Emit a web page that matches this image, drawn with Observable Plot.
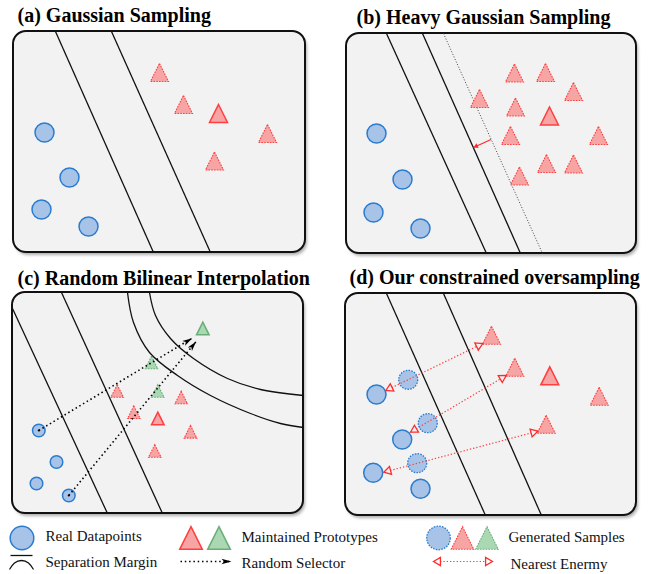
<!DOCTYPE html>
<html><head><meta charset="utf-8">
<script src="https://cdn.jsdelivr.net/npm/d3@7"></script>
<script src="https://cdn.jsdelivr.net/npm/@observablehq/plot@0.6"></script>
<style>body{margin:0;background:#fff}</style>
</head><body><div id="chart"></div>
<script>
// ---- diagram data (diagram units) ----
const panelBoxes = [
  {panel:"a", x1:13, y1:31, x2:305, y2:252},
  {panel:"b", x1:346, y1:33, x2:636, y2:253},
  {panel:"c", x1:12, y1:292, x2:303, y2:513},
  {panel:"d", x1:345, y1:293, x2:636, y2:515}
];
const panelTitles = [
  {label:"(a) Gaussian Sampling", x:17, y:21},
  {label:"(b) Heavy Gaussian Sampling", x:356, y:23},
  {label:"(c) Random Bilinear Interpolation", x:17, y:284},
  {label:"(d) Our constrained oversampling", x:349, y:283}
];
const marginLines = [
  {x1:55, y1:31, x2:153, y2:252}, {x1:111, y1:31, x2:210, y2:252},
  {x1:386, y1:33, x2:486, y2:253}, {x1:422, y1:33, x2:520, y2:253},
  {x1:12, y1:308, x2:107, y2:513}, {x1:61, y1:292, x2:162, y2:513},
  {x1:386, y1:293, x2:485, y2:515}, {x1:443, y1:293, x2:541, y2:515}
];
const shiftedBoundary = [{x1:443, y1:33, x2:542, y2:253}];
const shiftArrow = [{x1:490.5, y1:139, x2:473, y2:147}];
const curvedMargins = [
  {curve:"outer", x:127, y:292}, {curve:"outer", x:133, y:322}, {curve:"outer", x:149, y:352},
  {curve:"outer", x:177, y:375}, {curve:"outer", x:210, y:395}, {curve:"outer", x:250, y:413},
  {curve:"outer", x:280, y:423}, {curve:"outer", x:303, y:427},
  {curve:"inner", x:149, y:292}, {curve:"inner", x:155, y:315}, {curve:"inner", x:170, y:338},
  {curve:"inner", x:193, y:358}, {curve:"inner", x:227, y:378}, {curve:"inner", x:260, y:389},
  {curve:"inner", x:303, y:395}
];
const realPoints = [
  {panel:"a", x:44, y:132}, {panel:"a", x:69, y:177}, {panel:"a", x:41, y:209}, {panel:"a", x:88, y:226},
  {panel:"b", x:376, y:133}, {panel:"b", x:402, y:179}, {panel:"b", x:373, y:212}, {panel:"b", x:420, y:228},
  {panel:"c", x:38.3, y:430}, {panel:"c", x:56, y:461.5}, {panel:"c", x:36, y:483}, {panel:"c", x:68.3, y:495},
  {panel:"d", x:376, y:394}, {panel:"d", x:401.7, y:439}, {panel:"d", x:372.7, y:472.3}, {panel:"d", x:420, y:488.3},
  {panel:"legend", x:21.5, y:537.5}
];
const generatedPoints = [
  {panel:"d", x:407.7, y:379.3}, {panel:"d", x:427.3, y:422.7}, {panel:"d", x:416.7, y:462.7},
  {panel:"legend", x:438, y:537.5}
];
const selectedPoints = [{x:38.3, y:430}, {x:68.3, y:495}];
const triangles = [
  // panel a
  {panel:"a", x:159, y:72, color:"red", kind:"generated"},
  {panel:"a", x:183, y:104, color:"red", kind:"generated"},
  {panel:"a", x:218, y:113, color:"red", kind:"maintained"},
  {panel:"a", x:267, y:133, color:"red", kind:"generated"},
  {panel:"a", x:214, y:160.5, color:"red", kind:"generated"},
  // panel b
  {panel:"b", x:514, y:72.5, color:"red", kind:"generated"},
  {panel:"b", x:545, y:72, color:"red", kind:"generated"},
  {panel:"b", x:573, y:91, color:"red", kind:"generated"},
  {panel:"b", x:479, y:98, color:"red", kind:"generated"},
  {panel:"b", x:515, y:106.5, color:"red", kind:"generated"},
  {panel:"b", x:549, y:115.5, color:"red", kind:"maintained"},
  {panel:"b", x:510, y:135, color:"red", kind:"generated"},
  {panel:"b", x:598, y:135, color:"red", kind:"generated"},
  {panel:"b", x:546, y:163, color:"red", kind:"generated"},
  {panel:"b", x:573, y:163.5, color:"red", kind:"generated"},
  {panel:"b", x:519, y:175.5, color:"red", kind:"generated"},
  // panel c
  {panel:"c", x:202.3, y:328, color:"green", kind:"maintained"},
  {panel:"c", x:151, y:362, color:"green", kind:"generated"},
  {panel:"c", x:157.3, y:390.5, color:"green", kind:"generated"},
  {panel:"c", x:116.7, y:390.5, color:"red", kind:"generated"},
  {panel:"c", x:180.7, y:397, color:"red", kind:"generated"},
  {panel:"c", x:133.3, y:411.7, color:"red", kind:"generated"},
  {panel:"c", x:157.3, y:418, color:"red", kind:"maintained"},
  {panel:"c", x:190, y:431.3, color:"red", kind:"generated"},
  {panel:"c", x:154.3, y:450.5, color:"red", kind:"generated"},
  // panel d
  {panel:"d", x:491, y:334.7, color:"red", kind:"generated"},
  {panel:"d", x:514.3, y:366.7, color:"red", kind:"generated"},
  {panel:"d", x:549.3, y:375.3, color:"red", kind:"maintained"},
  {panel:"d", x:598.7, y:395.7, color:"red", kind:"generated"},
  {panel:"d", x:545.7, y:423.7, color:"red", kind:"generated"},
  // legend
  {panel:"legend", x:190.5, y:537.5, color:"red", kind:"maintained"},
  {panel:"legend", x:218.5, y:537.5, color:"green", kind:"maintained"},
  {panel:"legend", x:462, y:537.5, color:"red", kind:"generated"},
  {panel:"legend", x:486.5, y:537.5, color:"green", kind:"generated"}
];
const randomSelectors = [
  {panel:"c", x1:38.3, y1:430, x2:191.7, y2:337.7},
  {panel:"c", x1:68.3, y1:495, x2:195.7, y2:341},
  {panel:"legend", x1:180, y1:561, x2:231, y2:561}
];
const nearestEnemies = [
  {panel:"d", x1:385.3, y1:390, x2:482.3, y2:343},
  {panel:"d", x1:410, y1:431.7, x2:505.7, y2:375},
  {panel:"d", x1:383.3, y1:471.7, x2:537.3, y2:430.7},
  {panel:"legend", x1:433, y1:561, x2:492, y2:561}
];
const legendMarginBar = [{x1:10, y1:555, x2:32, y2:555}];
const legendMarginArc = [
  {x:9.3, y:568.5}, {x:14, y:562.5}, {x:21, y:560}, {x:28, y:562.5}, {x:32.7, y:568.5}
];
const legendLabels = [
  {label:"Real Datapoints", x:45, y:540},
  {label:"Maintained Prototypes", x:241, y:541},
  {label:"Generated Samples", x:508, y:541},
  {label:"Separation Margin", x:45, y:566},
  {label:"Random Selector", x:241, y:567},
  {label:"Nearest Enermy", x:510, y:568}
];

// ---- styles ----
const SERIF = "'Liberation Serif', 'Times New Roman', Times, 'DejaVu Serif', serif";
const COL = {
  red:   {fill:"#f6a4a4", stroke:"#ff3f3f"},
  green: {fill:"#a9d8b3", stroke:"#6aad78"},
  blue:  {fill:"#a7c3e7", stroke:"#2b7ccf"}
};
const PANEL_BG = "#f2f2f2";
const triSym = {draw(ctx, size) { const a = Math.sqrt(size / Math.PI);
  ctx.moveTo(0, -a); ctx.lineTo(a, a); ctx.lineTo(-a, a); ctx.closePath(); }};
const headSym = {draw(ctx, size) { const r = Math.sqrt(size / Math.PI);
  ctx.moveTo(0, 0); ctx.lineTo(r, 1.732 * r); ctx.lineTo(-r, 1.732 * r); ctx.closePath(); }};
const dartSym = {draw(ctx, size) { const r = Math.sqrt(size / Math.PI);
  ctx.moveTo(0, 0); ctx.lineTo(0.55 * r, 2 * r); ctx.lineTo(0, 1.5 * r); ctx.lineTo(-0.55 * r, 2 * r); ctx.closePath(); }};
const heading = (dx, dy) => Math.atan2(dx, -dy) * 180 / Math.PI;

const rFor = p => p === "c" ? 6.3 : p === "legend" ? 11.3 : 9;

function triangleMarks() {
  const marks = [];
  for (const p of ["a", "b", "c", "d", "legend"]) {
    for (const color of ["red", "green"]) {
      for (const kind of ["maintained", "generated"]) {
        const data = triangles.filter(d => d.panel === p && d.color === color && d.kind === kind);
        if (!data.length) continue;
        marks.push(Plot.dot(data, {
          x: "x", y: "y", symbol: triSym, r: rFor(p),
          fill: COL[color].fill, stroke: COL[color].stroke,
          strokeWidth: kind === "maintained" ? 1.5 : 1.1,
          strokeDasharray: kind === "maintained" ? null : "1.6,1.2"
        }));
      }
    }
  }
  return marks;
}
function circleMarks() {
  const marks = [];
  for (const p of ["a", "b", "c", "d", "legend"]) {
    const real = realPoints.filter(d => d.panel === p);
    if (real.length) marks.push(Plot.dot(real, {x:"x", y:"y", r: rFor(p) + (p === "c" ? 0 : 0.5),
      fill: COL.blue.fill, stroke: COL.blue.stroke, strokeWidth: 1.5}));
    const gen = generatedPoints.filter(d => d.panel === p);
    if (gen.length) marks.push(Plot.dot(gen, {x:"x", y:"y", r: rFor(p) + 0.5,
      fill: COL.blue.fill, stroke: COL.blue.stroke, strokeWidth: 1.3, strokeDasharray: "1.6,1.2"}));
  }
  return marks;
}

const chart = Plot.plot({
  width: 652, height: 574, margin: 0,
  x: {domain: [0, 652], range: [0, 652], axis: null},
  y: {domain: [0, 574], range: [0, 574], axis: null},
  style: {background: "#fff"},
  marks: [
    Plot.rect(panelBoxes, {x1:"x1", y1:"y1", x2:"x2", y2:"y2", rx: 13, dx: 2, dy: 3,
      fill: "#7a7a7a", fillOpacity: 0.6, imageFilter: "blur(1.5px)"}),
    Plot.rect(panelBoxes, {x1:"x1", y1:"y1", x2:"x2", y2:"y2", rx: 13,
      fill: PANEL_BG, stroke: "#111", strokeWidth: 2}),
    Plot.link(marginLines, {x1:"x1", y1:"y1", x2:"x2", y2:"y2", stroke:"#111", strokeWidth:1.3}),
    Plot.line(curvedMargins, {x:"x", y:"y", z:"curve", curve:"catmull-rom", stroke:"#111", strokeWidth:1.3}),
    Plot.link(shiftedBoundary, {x1:"x1", y1:"y1", x2:"x2", y2:"y2", stroke:"#444", strokeWidth:1, strokeDasharray:"1,1.8"}),
    Plot.link(shiftArrow, {x1:"x1", y1:"y1", x2:"x2", y2:"y2", stroke:"#ff2a2a", strokeWidth:1.3}),
    Plot.dot(shiftArrow, {x:"x2", y:"y2", symbol: headSym, r: 2.6, fill:"#ff2a2a",
      rotate: d => heading(d.x2 - d.x1, d.y2 - d.y1)}),
    ...circleMarks(),
    ...triangleMarks(),
    Plot.dot(selectedPoints, {x:"x", y:"y", r:1.1, fill:"#000"}),
    Plot.link(randomSelectors, {x1:"x1", y1:"y1", x2:"x2", y2:"y2", stroke:"#000", strokeWidth:1.6, strokeDasharray:"1.5,2.8"}),
    Plot.dot(randomSelectors, {x:"x2", y:"y2", symbol: dartSym, r: 5, fill:"#000",
      rotate: d => heading(d.x2 - d.x1, d.y2 - d.y1)}),
    Plot.link(nearestEnemies, {x1:"x1", y1:"y1", x2:"x2", y2:"y2", stroke:"#ff3a3a", strokeWidth:1.2, strokeDasharray:"1.3,2"}),
    Plot.dot(nearestEnemies, {x:"x2", y:"y2", symbol: headSym, r: 4,
      fill: d => d.panel === "legend" ? "#ffffff" : PANEL_BG, stroke:"#ff2a2a", strokeWidth:1.3,
      rotate: d => heading(d.x2 - d.x1, d.y2 - d.y1)}),
    Plot.dot(nearestEnemies, {x:"x1", y:"y1", symbol: headSym, r: 4,
      fill: d => d.panel === "legend" ? "#ffffff" : PANEL_BG, stroke:"#ff2a2a", strokeWidth:1.3,
      rotate: d => heading(d.x1 - d.x2, d.y1 - d.y2)}),
    Plot.link(legendMarginBar, {x1:"x1", y1:"y1", x2:"x2", y2:"y2", stroke:"#111", strokeWidth:1.3}),
    Plot.line(legendMarginArc, {x:"x", y:"y", curve:"natural", stroke:"#111", strokeWidth:1.3}),
    Plot.text(panelTitles, {x:"x", y:"y", text:"label", textAnchor:"start", lineAnchor:"bottom",
      fontFamily: SERIF, fontWeight:"bold", fontSize:20, fill:"#000"}),
    Plot.text(legendLabels, {x:"x", y:"y", text:"label", textAnchor:"start", lineAnchor:"bottom",
      fontFamily: SERIF, fontSize:15, fill:"#111"})
  ]
});
document.getElementById("chart").appendChild(chart);
</script>
</body></html>
